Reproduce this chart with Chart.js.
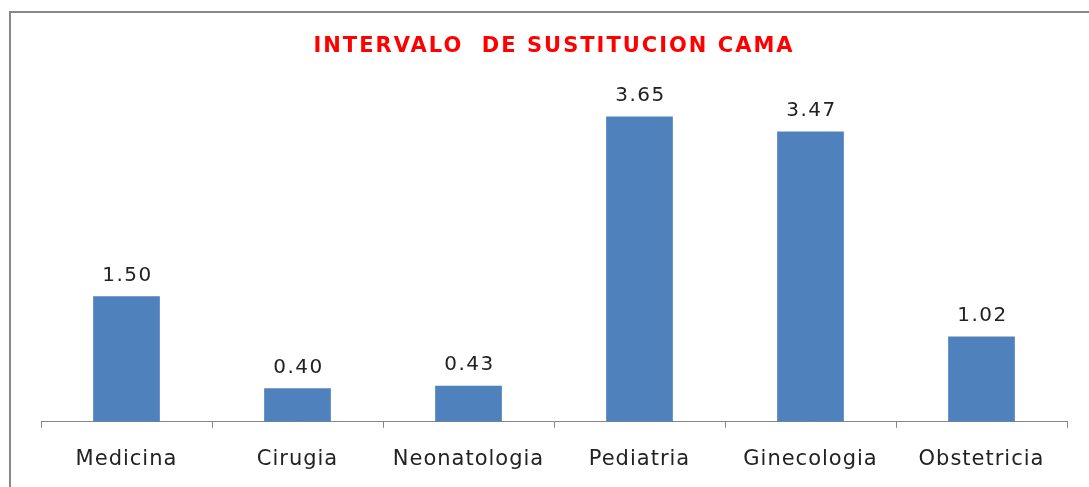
<!DOCTYPE html>
<html>
<head>
<meta charset="utf-8">
<script src="https://cdn.jsdelivr.net/npm/chart.js@4"></script>
<style>
    html, body { margin: 0; padding: 0; background: #fff; overflow: hidden; }
    #marco {
        position: absolute; left: 9px; top: 11px;
        width: 1200px; height: 600px;
        border: 2px solid #888;
        box-shadow: 2px 2px 3px rgba(0,0,0,0.15);
    }
    #grafico { position: absolute; left: 0; top: 0; }
</style>
</head>
<body>
<div id="marco"></div>
<canvas id="grafico" width="1089" height="487"></canvas>
<script>
// datos
const servicios = ['Medicina', 'Cirugia', 'Neonatologia', 'Pediatria', 'Ginecologia', 'Obstetricia'];
const intervalos = [1.50, 0.40, 0.43, 3.65, 3.47, 1.02];
const titulo = 'INTERVALO  DE SUSTITUCION CAMA';

// etiquetas de valor encima de cada barra + espaciado de letras
// (titulo antes de las barras, ticks del eje x despues: ticks.z = 1)
const etiquetasValor = {
    id: 'etiquetasValor',
    beforeDraw: function (chart) {
        chart.ctx.letterSpacing = '2px';
    },
    afterDatasetsDraw: function (chart) {
        const ctx = chart.ctx;
        const meta = chart.getDatasetMeta(0);
        ctx.save();
        ctx.font = '20px "DejaVu Sans"';
        ctx.letterSpacing = '1.5px';
        ctx.fillStyle = '#222';
        ctx.textAlign = 'center';
        ctx.textBaseline = 'bottom';
        meta.data.forEach((bar, i) => {
            ctx.fillText(intervalos[i].toFixed(2), bar.x + 1, bar.y - 11);
        });
        ctx.restore();
        ctx.letterSpacing = '1px';
    },
    afterDraw: function (chart) {
        chart.ctx.letterSpacing = '0px';
    }
};

new Chart(document.getElementById('grafico'), {
    type: 'bar',
    data: {
        labels: servicios,
        datasets: [{
            data: intervalos,
            backgroundColor: '#4F81BD',
            borderWidth: 0,
            barPercentage: 0.39,
            categoryPercentage: 1
        }]
    },
    plugins: [etiquetasValor],
    options: {
        responsive: false,
        animation: false,
        layout: { padding: { left: 41, right: 22, top: 0, bottom: -4 } },
        plugins: {
            legend: { display: false },
            tooltip: { enabled: false },
            title: {
                display: true,
                text: titulo,
                color: '#FF0000',
                font: { family: '"DejaVu Sans"', size: 21, weight: 'bold' },
                padding: { top: 34, bottom: 28 }
            }
        },
        scales: {
            x: {
                grid: {
                    offset: true,
                    drawOnChartArea: false,
                    drawTicks: true,
                    tickLength: 6,
                    color: '#868686'
                },
                border: { display: true, color: '#868686', width: 1 },
                ticks: {
                    z: 1,
                    color: '#222',
                    font: { family: '"DejaVu Sans"', size: 21 },
                    padding: 19
                }
            },
            y: {
                display: false,
                min: 0,
                max: 4
            }
        }
    }
});
</script>
</body>
</html>
